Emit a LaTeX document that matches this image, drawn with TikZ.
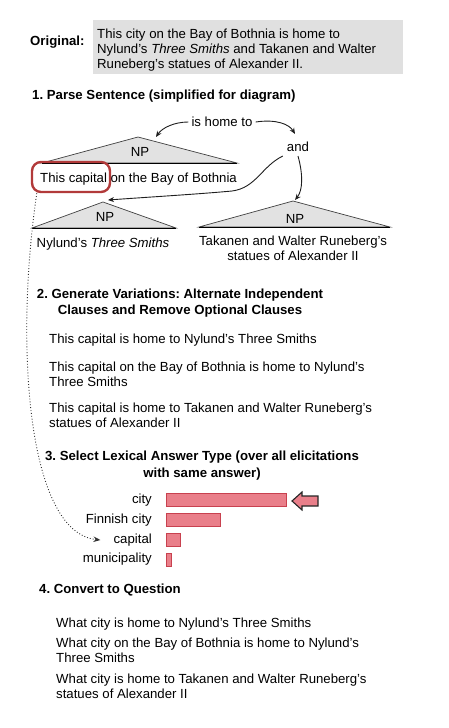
\documentclass[tikz,border=0pt]{standalone}
\usepackage{fontspec}
\setmainfont{Liberation Sans}
\usetikzlibrary{arrows.meta}
\definecolor{boxgray}{HTML}{E0E0E0}
\definecolor{trigray}{HTML}{E2E2E2}
\definecolor{redring}{HTML}{B23A3A}
\definecolor{barfill}{HTML}{E97F8A}
\definecolor{barline}{HTML}{C8414F}
\frenchspacing
\begin{document}
\frenchspacing
\begin{tikzpicture}[x=1pt,y=-1pt,
  every node/.style={inner sep=0pt, font=\fontsize{13.2}{15}\selectfont},
  txt/.style={anchor=north west, align=left},
  hd/.style={font=\fontsize{13.2}{16}\selectfont\bfseries},
  conn/.style={draw=black!88, line width=0.9pt, -{Stealth[length=6pt,width=5pt]}},
  dotconn/.style={draw=black!80, line width=0.9pt, dash pattern=on 0.9pt off 2pt, -{Stealth[length=7pt,width=5.5pt]}},
  tri/.style={fill=trigray, draw=black!75, line width=0.7pt},
  triBase/.style={draw=black, line width=1pt},
  redbox/.style={draw=redring, line width=2.4pt, rounded corners=9pt, minimum width=78pt, minimum height=30pt},
  bar/.style={fill=barfill, draw=barline, line width=1pt, minimum height=13pt, anchor=north west},
  barlabel/.style={anchor=east}
]
\useasboundingbox (0,0) rectangle (448,728);

% Original
\node[hd, anchor=west] (orig) at (30,42.5) {Original:};
\fill[boxgray] (93,20) rectangle (403,74);
\node[txt] (origtext) at (97,29) {This city on the Bay of Bothnia is home to\\Nylund’s \textit{Three Smiths} and Takanen and Walter\\Runeberg’s statues of Alexander II.};

% Section 1
\node[hd, txt] (h1) at (32,90) {1. Parse Sentence (simplified for diagram)};

% triangles
\filldraw[tri] (42,163) -- (138,137) -- (237,163) -- cycle;
\draw[triBase] (42,163) -- (237,163);
\filldraw[tri] (32,228) -- (103,202) -- (176,228) -- cycle;
\draw[triBase] (32,228) -- (176,228);
\filldraw[tri] (199,227) -- (293,201) -- (390,227) -- cycle;
\draw[triBase] (199,227) -- (390,227);
\coordinate (np1in) at (156,137);
\coordinate (np2in) at (108,200);
\coordinate (np3in) at (295,200);

\node[inner xsep=3pt] (ishome) at (222,122) {is home to};
\node[inner sep=4pt] (and) at (298,147) {and};
\node (np1) at (140,152) {NP};
\node[anchor=west] (phr1) at (40,179) {This capital on the Bay of Bothnia};
\node[redbox] (capbox) at (71,177) {};
\node (np2) at (105,217) {NP};
\node (phr2) at (103,244) {Nylund’s \textit{Three Smiths}};
\node (np3) at (295,219) {NP};
\node[align=center] (phr3) at (293,248) {Takanen and Walter Runeberg’s\\statues of Alexander II};

\draw[conn] (ishome.west) .. controls (174,122) and (162,128) .. (np1in);
\draw[conn] (ishome.east) .. controls (276,119) and (289,124) .. ([xshift=-3pt,yshift=4pt]and.north);
\draw[conn] (and.south west) .. controls (262,166) and (256,188) .. (232,191) .. controls (200,194) and (150,197) .. (np2in);
\draw[conn] (and.south) .. controls (303,174) and (303,190) .. (np3in);

% Section 2
\node[hd, anchor=north, align=center] (h2) at (180,289) {2. Generate Variations: Alternate Independent\\Clauses and Remove Optional Clauses};
\node[txt] (v1) at (49,334) {This capital is home to Nylund’s Three Smiths};
\node[txt] (v2) at (49,362) {This capital on the Bay of Bothnia is home to Nylund’s\\Three Smiths};
\node[txt] (v3) at (49,403) {This capital is home to Takanen and Walter Runeberg’s\\statues of Alexander II};

% Section 3
\node[hd, anchor=north, align=center, font=\fontsize{13.2}{17}\selectfont\bfseries] (h3) at (202,451) {3. Select Lexical Answer Type (over all elicitations\\with same answer)};
\node[barlabel] (lcity) at (152,500) {city};
\node[barlabel] (lfin) at (152,520) {Finnish city};
\node[barlabel] (lcap) at (152,540) {capital};
\node[barlabel] (lmun) at (152,559) {municipality};
\node[bar, minimum width=120pt] (bcity) at (166,493) {};
\node[bar, minimum width=54pt] (bfin) at (166,513) {};
\node[bar, minimum width=14pt] (bcap) at (166,533) {};
\node[bar, minimum width=5pt] (bmun) at (166,553) {};
\filldraw[fill=barfill, draw=black!85, line width=1.1pt, line join=miter]
  (292,501) -- (302,492) -- (302,496) -- (318,496) -- (318,506) -- (302,506) -- (302,510) -- cycle;

\draw[dotconn] ([xshift=6pt]capbox.south west) .. controls (15,340) and (26,532) .. ([xshift=-13pt]lcap.west);

% Section 4
\node[hd, txt] (h4) at (39,584) {4. Convert to Question};
\node[txt] (q1) at (56,618) {What city is home to Nylund’s Three Smiths};
\node[txt] (q2) at (56,638) {What city on the Bay of Bothnia is home to Nylund’s\\Three Smiths};
\node[txt] (q3) at (56,674) {What city is home to Takanen and Walter Runeberg’s\\statues of Alexander II};
\end{tikzpicture}
\end{document}
